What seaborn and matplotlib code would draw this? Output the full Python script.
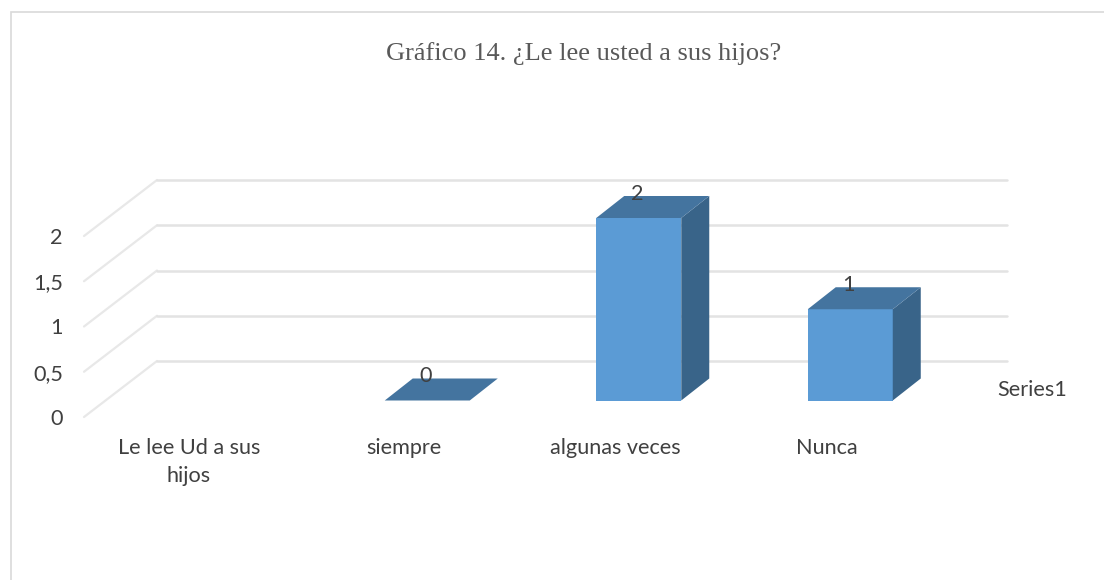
import math
import matplotlib
matplotlib.use("Agg")
import matplotlib.pyplot as plt
import seaborn as sns
import pandas as pd
from matplotlib.patches import Polygon, Rectangle
from matplotlib.lines import Line2D
from matplotlib.transforms import Affine2D

categories = ["Le lee Ud a sus\nhijos", "siempre", "algunas veces", "Nunca"]
values = [None, 0, 2, 1]
y_ticks = [0, 0.5, 1, 1.5, 2]
y_tick_labels = ["0", "0,5", "1", "1,5", "2"]
title = "Gráfico 14. ¿Le lee usted a sus hijos?"
series_name = "Series1"

W, H = 1104, 580
FRONT = "#5B9BD5"
TOP = "#44749F"
SIDE = "#396489"
GRID = "#E3E3E3"
TXT = "#404040"
FS = 15.6

sns.set_theme(style="white")
plt.rcParams["font.family"] = ["Lato", "DejaVu Sans"]

fig = plt.figure(figsize=(W / 100, H / 100), dpi=100, facecolor="white")
fig.add_artist(Rectangle((11 / W, -0.01), (W - 10) / W, 1 - 12 / H + 0.01, transform=fig.transFigure,
                         fc="white", ec="#D9D9D9", lw=1.2, zorder=-2))
# axes in px: x 110..956, value 0 at y=400.5, value 2 at y=218
left, right, y0, y2 = 110, 956, 400.5, 218
ax = fig.add_axes([left / W, 1 - y0 / H, (right - left) / W, (y0 - y2) / H], zorder=2)
df = pd.DataFrame({"cat": categories, "val": values})
sns.barplot(data=df, x="cat", y="val", color=FRONT, saturation=1, width=0.402, ax=ax, zorder=3,
            linewidth=0, edgecolor=FRONT)
ax.set_xlim(-0.5, 3.5)
ax.set_ylim(0, 2)
ax.patch.set_alpha(0)
sns.despine(ax=ax, left=True, bottom=True, top=True, right=True)
ax.set_xlabel("")
ax.set_ylabel("")

dx, dy = 28, 22

# walls and gridlines
for v in y_ticks:
    yb = 361 - 90.5 * v
    yf = 417 - 90.5 * v
    fig.add_artist(Line2D([84 / W, 157 / W], [1 - yf / H, 1 - yb / H], color="#E8E8E8", lw=1.6, zorder=-1))
    fig.add_artist(Line2D([157 / W, 1007 / W], [1 - yb / H, 1 - yb / H], color=GRID, lw=1.8, zorder=-1))

# y tick labels (real ticks, shifted to the floor's front edge)
ax.set_yticks(y_ticks)
ax.set_yticklabels(y_tick_labels, fontsize=FS, color=TXT)
ax.tick_params(axis="y", length=0, pad=0)
for lab, v in zip(ax.get_yticklabels(), y_ticks):
    shift = (417 - 90.5 * v) - (400.5 - 91.25 * v)
    lab.set_transform(lab.get_transform() + Affine2D().translate(-(110 - 63), -shift))
    lab.set_ha("right")

# x tick labels
ax.tick_params(axis="x", length=0, pad=0)
ax.set_xticks(range(len(categories)))
ax.set_xticklabels(categories, fontsize=FS, color=TXT, linespacing=1.5, va="top")
for i, lab in enumerate(ax.get_xticklabels()):
    lab.set_transform(lab.get_transform() + Affine2D().translate(-27 if i == 0 else -23, -38))

# depth faces + value labels
fig.canvas.draw()
drawn = [v for v in values if v is not None]
bars = [p for p in ax.patches if not math.isnan(p.get_height())][-len(drawn):]
inv = ax.transData.inverted()
for patch, val in zip(bars, drawn):
    x, w, h = patch.get_x(), patch.get_width(), patch.get_height()
    xa, ya = ax.transData.transform((x, 0))
    xb, yb = ax.transData.transform((x + w, h))
    top = inv.transform([(xa, yb), (xb, yb), (xb + dx, yb + dy), (xa + dx, yb + dy)])
    side = inv.transform([(xb, ya), (xb + dx, ya + dy), (xb + dx, yb + dy), (xb, yb)])
    ax.add_patch(Polygon(side, closed=True, fc=SIDE, ec="none", zorder=3, clip_on=False))
    ax.add_patch(Polygon(top, closed=True, fc=TOP, ec="none", zorder=3, clip_on=False))
    ax.annotate(str(val), xy=(x + w / 2, h), xytext=(-1, 13), textcoords="offset points",
                ha="center", va="baseline", fontsize=FS, color=TXT, annotation_clip=False, zorder=5)

fig.text(1032.5 / W, 1 - 390 / H, series_name, ha="center", va="center", fontsize=FS, color=TXT)
fig.text(583.5 / W, 1 - 54 / H, title, ha="center", va="center", fontsize=19, color="#595959",
         family=["Liberation Serif", "DejaVu Serif"])
fig.savefig("out.png", dpi=100)
